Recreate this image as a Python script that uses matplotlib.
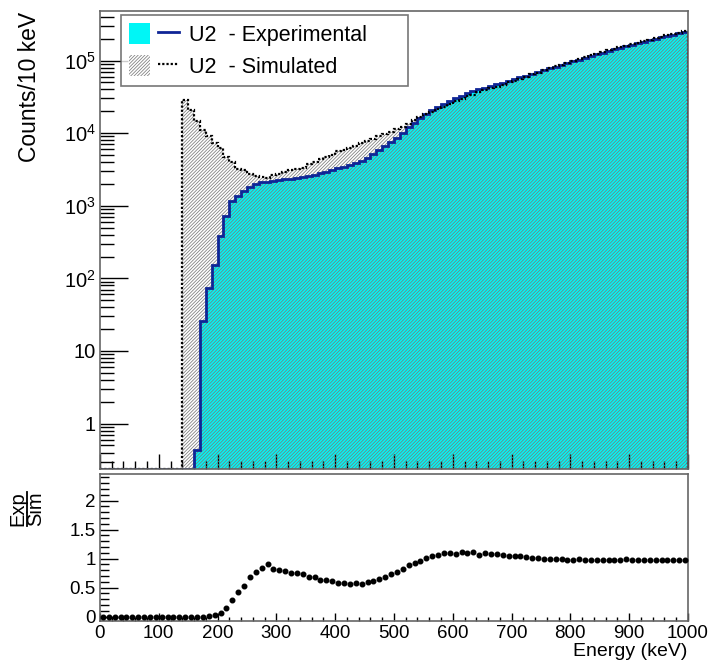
import numpy as np
import matplotlib
matplotlib.use("Agg")
import matplotlib.pyplot as plt
from matplotlib.patches import Patch
from matplotlib.lines import Line2D
from matplotlib.legend_handler import HandlerTuple
from matplotlib.ticker import MultipleLocator, LogLocator, NullFormatter

plt.rcParams['font.family'] = ['Liberation Sans', 'DejaVu Sans']
plt.rcParams['mathtext.fontset'] = 'custom'
plt.rcParams['mathtext.rm'] = 'Liberation Sans'
plt.rcParams['mathtext.it'] = 'Liberation Sans:italic'
plt.rcParams['mathtext.bf'] = 'Liberation Sans:bold'
plt.rcParams['hatch.linewidth'] = 0.55

# 10 keV binning, 0 - 1000 keV
bin_edges = np.arange(0, 1001, 10)

exp_counts = [
    0, 0, 0, 0, 0, 0, 0, 0, 0, 0,
    0, 0, 0, 0, 0, 0, 0.44, 26, 74, 153,
    388, 733, 1150, 1380, 1620, 1840, 2000, 2100, 2150, 2200,
    2230, 2300, 2370, 2430, 2500, 2580, 2690, 2820, 2960, 3130,
    3300, 3450, 3600, 3850, 4100, 4600, 5200, 5900, 6700, 7600,
    8700, 10200, 12000, 14000, 16200, 18500, 20800, 23000, 25300, 27800,
    30300, 32800, 35300, 37700, 40000, 42300, 44600, 47000, 49600, 52500,
    55500, 58700, 62000, 65500, 69500, 73500, 78000, 82500, 87000, 92000,
    97000, 103000, 109000, 115000, 121500, 128000, 135000, 142000, 149000, 157000,
    165000, 173000, 181000, 190000, 199000, 208000, 217000, 227000, 237000, 248000,
]

sim_counts = [
    0, 0, 0, 0, 0, 0, 0, 0, 0, 0,
    0, 0, 0, 0, 29000, 20500, 14500, 11000, 9000, 7400,
    6200, 4670, 3970, 3250, 3115, 2705, 2600, 2500, 2390, 2660,
    2750, 2890, 3120, 3220, 3360, 3790, 3960, 4450, 4680, 5050,
    5630, 5890, 6340, 6570, 7220, 7710, 8370, 9010, 9880, 10330,
    11280, 12300, 13530, 15180, 16930, 18320, 19810, 21700, 23210, 25500,
    28060, 29550, 32090, 33960, 37380, 38810, 41300, 43520, 46360, 50000,
    52860, 55900, 60190, 64220, 68140, 73500, 78790, 83330, 87880, 93880,
    98980, 104040, 111220, 117350, 123980, 130610, 137760, 144900, 152040, 158590,
    168370, 176530, 184690, 193880, 203060, 212240, 221430, 231630, 241840, 253060,
]

exp_label = "U2  - Experimental"
sim_label = "U2  - Simulated"

exp = np.array(exp_counts, dtype=float)
sim = np.array(sim_counts, dtype=float)
centers = 0.5 * (bin_edges[:-1] + bin_edges[1:])
ratio = np.divide(exp, sim, out=np.zeros_like(exp), where=sim > 0)

cyan = '#00f6f6'
blue = '#0f2596'
hatch_grey = '#7c7c7c'
hatch_pat = '//////////'
frame_col = '#666666'

fig = plt.figure(figsize=(7.11, 6.65), dpi=100)
ax = fig.add_axes([0.1406, 0.2947, 0.8270, 0.6887])
ax2 = fig.add_axes([0.1406, 0.0666, 0.8270, 0.2206])

ymin, ymax = 0.237, 4.8e5
exp_draw = np.maximum(exp, ymin)
sim_draw = np.maximum(sim, ymin)

# experimental spectrum: solid fill + outline
ax.stairs(exp_draw, bin_edges, baseline=ymin, fill=True,
          facecolor=cyan, edgecolor='none', linewidth=0, zorder=1)
ax.stairs(exp_draw, bin_edges, baseline=ymin, color=blue, linewidth=2.0, zorder=3)
# simulated spectrum: hatched, dotted outline
ax.stairs(sim_draw, bin_edges, baseline=ymin, fill=True,
          facecolor='none', edgecolor=hatch_grey, hatch=hatch_pat, linewidth=0, zorder=2)
ax.stairs(sim_draw, bin_edges, baseline=ymin, color='black', linewidth=1.6,
          linestyle=(0, (1, 0.9)), zorder=4)

ax.set_xlim(0, 1000)
ax.set_yscale('log')
ax.set_ylim(ymin, ymax)
ax.set_yticks([1, 10, 100, 1e3, 1e4, 1e5],
              labels=['1', '10', r'$10^{2}$', r'$10^{3}$', r'$10^{4}$', r'$10^{5}$'])
ax.yaxis.set_minor_locator(LogLocator(base=10, subs=np.arange(2, 10), numticks=30))
ax.yaxis.set_minor_formatter(NullFormatter())
ax.xaxis.set_major_locator(MultipleLocator(100))
ax.xaxis.set_minor_locator(MultipleLocator(20))
ax.tick_params(axis='x', which='both', labelbottom=False, direction='in',
               top=False, bottom=True)
ax.tick_params(axis='x', which='major', length=11, width=1)
ax.tick_params(axis='x', which='minor', length=5.5, width=1)
ax.tick_params(axis='y', which='both', direction='in', left=True, right=False,
               labelsize=14.5, pad=3)
ax.tick_params(axis='y', which='major', length=20, width=1)
ax.tick_params(axis='y', which='minor', length=10, width=1)
for s in ax.spines.values():
    s.set_color(frame_col)
    s.set_linewidth(1.2)
    s.set_zorder(5)

exp_handle = (Patch(facecolor=cyan, edgecolor='none'),
              Line2D([], [], color=blue, linewidth=2.0))
sim_handle = (Patch(facecolor='white', edgecolor=hatch_grey, hatch=hatch_pat, linewidth=0),
              Line2D([], [], color='black', linewidth=1.6, linestyle=(0, (1, 0.9))))
leg = ax.legend([exp_handle, sim_handle], [exp_label, sim_label],
                handler_map={tuple: HandlerTuple(ndivide=None)},
                loc='upper left', bbox_to_anchor=(0.0357, 0.8275, 0.488, 0.164),
                mode='expand', borderaxespad=0, fontsize=15.5, frameon=True,
                fancybox=False, handlelength=2.3, handleheight=1.15,
                handletextpad=0.5, labelspacing=0.42, borderpad=0.38)
leg.get_frame().set_edgecolor('#555555')
leg.get_frame().set_linewidth(1.2)
leg.set_zorder(10)

# ratio panel
ax2.plot(centers, ratio, 'o', color='black', markersize=3.3, zorder=3)
ax2.set_xlim(0, 1000)
ax2.set_ylim(-0.07, 2.46)
ax2.set_yticks([0, 0.5, 1, 1.5, 2], labels=['0', '0.5', '1', '1.5', '2'])
ax2.yaxis.set_minor_locator(MultipleLocator(0.1))
ax2.xaxis.set_major_locator(MultipleLocator(100))
ax2.xaxis.set_minor_locator(MultipleLocator(20))
ax2.tick_params(axis='both', which='both', direction='in', top=False, right=False,
                labelsize=13.5)
ax2.tick_params(axis='y', which='major', length=13, width=1, pad=3)
ax2.tick_params(axis='y', which='minor', length=6.5, width=1)
ax2.tick_params(axis='x', which='major', length=6, width=1, pad=3)
ax2.tick_params(axis='x', which='minor', length=3, width=1)
for s in ax2.spines.values():
    s.set_color(frame_col)
    s.set_linewidth(1.2)

# axis titles
fig.text(30 / 711, 1 - 12 / 665, 'Counts/10 keV', rotation=90, ha='center', va='top',
         fontsize=16.5)
fig.text(687 / 711, 1 - 652 / 665, 'Energy (keV)', ha='right', va='center', fontsize=14)
fig.text(18 / 711, 1 - 509 / 665, 'Exp', rotation=90, ha='center', va='center', fontsize=14.5)
fig.text(36 / 711, 1 - 509 / 665, 'Sim', rotation=90, ha='center', va='center', fontsize=14.5)
fig.add_artist(Line2D([27 / 711, 27 / 711], [1 - 492 / 665, 1 - 526 / 665],
                      transform=fig.transFigure, color='black', linewidth=1.3))

fig.savefig('out.png', dpi=100)
